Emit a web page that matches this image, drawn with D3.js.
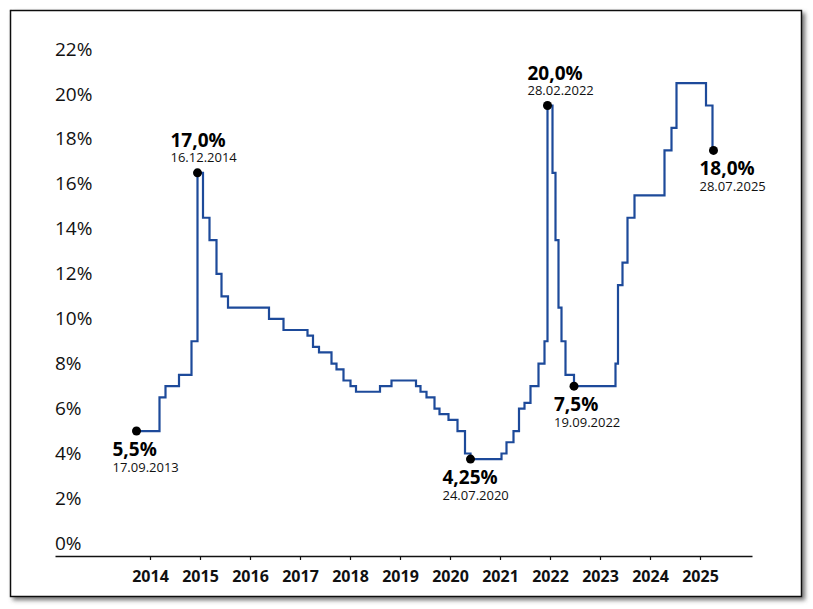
<!DOCTYPE html>
<html>
<head>
<meta charset="utf-8">
<script src="https://cdn.jsdelivr.net/npm/d3@7"></script>
<style>
  body { margin: 0; background: #fff; }
  svg { display: block; font-family: "Open Sans", "Noto Sans", sans-serif; }
</style>
</head>
<body>
<svg id="chart"></svg>
<script>
const width = 813;
const height = 609;

// Key rate steps: position on the time axis (decimal year, as drawn) and rate in %
const stepYears = [
    2013.73, 2014.19, 2014.31, 2014.58, 2014.83, 2014.95, 2015.06, 2015.19, 2015.33, 2015.43,
    2015.56, 2016.38, 2016.67, 2017.15, 2017.26, 2017.38, 2017.63, 2017.73, 2017.87, 2018.01,
    2018.12, 2018.60, 2018.83, 2019.32, 2019.41, 2019.53, 2019.69, 2019.79, 2019.97, 2020.15,
    2020.30, 2020.41, 2021.03, 2021.13, 2021.27, 2021.38, 2021.49, 2021.61, 2021.77, 2021.89,
    2021.95, 2022.05, 2022.11, 2022.17, 2022.23, 2022.31, 2022.48, 2023.31, 2023.36, 2023.45,
    2023.55, 2023.69, 2024.29, 2024.43, 2024.53, 2025.12, 2025.25, 2025.27
];
const stepRates = [
    5.5, 7.0, 7.5, 8.0, 9.5, 17.0, 15.0, 14.0, 12.5, 11.5,
    11.0, 10.5, 10.0, 9.75, 9.25, 9.0, 8.5, 8.25, 7.75, 7.5,
    7.25, 7.5, 7.75, 7.5, 7.25, 7.0, 6.5, 6.25, 6.0, 5.5,
    4.5, 4.25, 4.5, 5.0, 5.5, 6.5, 6.75, 7.5, 8.5, 9.5,
    20.0, 17.0, 14.0, 11.0, 9.5, 8.0, 7.5, 8.5, 12.0, 13.0,
    15.0, 16.0, 18.0, 19.0, 21.0, 20.0, 18.0, 18.0
];

// Highlighted points
const markIndex = [0, 5, 31, 40, 46, 57];
const markRate = ["5,5%", "17,0%", "4,25%", "20,0%", "7,5%", "18,0%"];
const markDate = ["17.09.2013", "16.12.2014", "24.07.2020", "28.02.2022", "19.09.2022", "28.07.2025"];

const yearTicks = [2014, 2015, 2016, 2017, 2018, 2019, 2020, 2021, 2022, 2023, 2024, 2025];
const rateTicks = [0, 2, 4, 6, 8, 10, 12, 14, 16, 18, 20, 22];

// label placement for each highlighted point (layout only)
const markLayout = [
    { dx: -24, below: true },
    { dx: -27, below: false },
    { dx: -28, below: true },
    { dx: -20, below: false },
    { dx: -20, below: true },
    { dx: -14, below: true }
];

const data = stepYears.map((t, i) => ({ t: t, v: stepRates[i] }));

const svg = d3.select("#chart")
    .attr("width", width)
    .attr("height", height);

// frame with shadow
const defs = svg.append("defs");
const shadow = defs.append("filter").attr("id", "shadow")
    .attr("x", "-5%").attr("y", "-5%").attr("width", "110%").attr("height", "110%");
shadow.append("feDropShadow")
    .attr("dx", 3).attr("dy", 3)
    .attr("stdDeviation", 2)
    .attr("flood-color", "#555")
    .attr("flood-opacity", 0.8);

svg.append("rect")
    .attr("x", 10.5).attr("y", 10.5)
    .attr("width", 791).attr("height", 586)
    .attr("fill", "#fff")
    .attr("stroke", "#111")
    .attr("stroke-width", 1.5)
    .attr("filter", "url(#shadow)");

const x = d3.scaleLinear()
    .domain([2012.1, 2026.04])
    .range([55, 752]);

const y = d3.scaleLinear()
    .domain([0, 22])
    .range([554.5, 554.5 - 22 * 22.45]);

// y labels sit a little above their level, no axis line
svg.append("g")
    .selectAll("text")
    .data(rateTicks)
    .join("text")
    .attr("x", 55)
    .attr("y", d => y(d) - 5)
    .attr("font-size", 19)
    .attr("fill", "#111")
    .text(d => d + "%");

// x axis
const xAxis = svg.append("g")
    .attr("transform", "translate(0,556)")
    .call(d3.axisBottom(x)
        .tickValues(yearTicks)
        .tickFormat(d3.format("d"))
        .tickSize(4)
        .tickSizeOuter(0)
        .tickPadding(11));

xAxis.select(".domain").attr("stroke", "#111").attr("stroke-width", 1.5);
xAxis.selectAll(".tick line").attr("stroke", "#111").attr("stroke-width", 1.2);
xAxis.selectAll(".tick text")
    .attr("font-size", 16)
    .attr("font-weight", "bold")
    .attr("font-family", "\"Open Sans\", \"Noto Sans\", sans-serif")
    .attr("fill", "#111");

// step line
const line = d3.line()
    .x(d => x(d.t))
    .y(d => y(d.v))
    .curve(d3.curveStepAfter);

svg.append("path")
    .datum(data)
    .attr("d", line)
    .attr("fill", "none")
    .attr("stroke", "#1d4a9a")
    .attr("stroke-width", 2.2);

// highlighted points with labels
const marks = svg.append("g")
    .selectAll("g")
    .data(markIndex.map((idx, i) => ({
        p: data[idx],
        rate: markRate[i],
        date: markDate[i],
        layout: markLayout[i]
    })))
    .join("g")
    .attr("transform", d => `translate(${x(d.p.t)},${y(d.p.v)})`);

marks.append("circle")
    .attr("r", 4.5)
    .attr("fill", "#000");

marks.append("text")
    .attr("x", d => d.layout.dx)
    .attr("y", d => d.layout.below ? 25 : -26)
    .attr("font-size", 19)
    .attr("font-weight", "bold")
    .attr("fill", "#000")
    .text(d => d.rate);

marks.append("text")
    .attr("x", d => d.layout.dx)
    .attr("y", d => d.layout.below ? 41 : -10.5)
    .attr("font-size", 13)
    .attr("fill", "#111")
    .text(d => d.date);
</script>
</body>
</html>
